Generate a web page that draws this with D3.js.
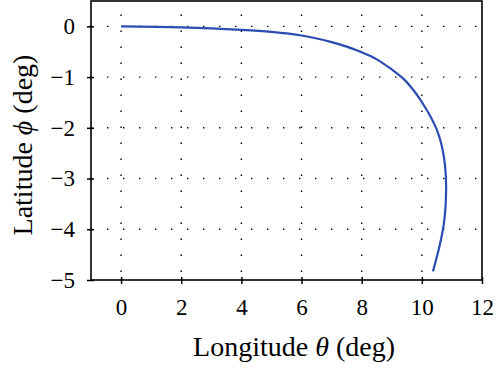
<!DOCTYPE html>
<html>
<head>
<meta charset="utf-8">
<script src="https://cdn.jsdelivr.net/npm/d3@7"></script>
<style>
  body { margin: 0; background: #fff; }
  svg text { font-family: "Liberation Serif", "DejaVu Serif", serif; fill: #000; }
</style>
</head>
<body>
<div id="chart"></div>
<script>
// values
const longitude = [0, 2, 4, 5, 6, 7, 7.5, 8, 8.5, 9, 9.4, 9.75, 10.05, 10.3, 10.5, 10.64, 10.74, 10.8, 10.8, 10.73, 10.6, 10.37]
const latitude = [0, -0.02, -0.07, -0.11, -0.18, -0.31, -0.40, -0.51, -0.65, -0.85, -1.04, -1.28, -1.54, -1.79, -2.04, -2.3, -2.6, -2.97, -3.4, -3.9, -4.3, -4.83]
const xTicks = [0, 2, 4, 6, 8, 10, 12]
const yTicks = [0, -1, -2, -3, -4, -5]

const width = 500
const height = 368
const margin = { top: 1, right: 18, bottom: 88, left: 91 }
const serif = '"Liberation Serif", "DejaVu Serif", serif'

const svg = d3.select('#chart')
    .append('svg')
    .attr('width', width)
    .attr('height', height)

const x = d3.scaleLinear()
    .domain([-1, 12])
    .range([margin.left, width - margin.right])

const y = d3.scaleLinear()
    .domain([-5, 0.5])
    .range([height - margin.bottom, margin.top])

// dotted grid
svg.append('g')
    .selectAll('line')
    .data(xTicks.filter(d => d < 12))
    .enter()
    .append('line')
    .attr('x1', d => x(d))
    .attr('x2', d => x(d))
    .attr('y1', y(-5))
    .attr('y2', y(0.5))
    .attr('stroke', '#000')
    .attr('stroke-width', 1.4)
    .attr('stroke-dasharray', '1.4,14.6')
    .attr('stroke-dashoffset', -8)

svg.append('g')
    .selectAll('line')
    .data(yTicks.filter(d => d > -5))
    .enter()
    .append('line')
    .attr('x1', x(-1))
    .attr('x2', x(12))
    .attr('y1', d => y(d))
    .attr('y2', d => y(d))
    .attr('stroke', '#000')
    .attr('stroke-width', 1.4)
    .attr('stroke-dasharray', '1.4,14.6')
    .attr('stroke-dashoffset', -16)

// curve
const line = d3.line()
    .x((d, i) => x(longitude[i]))
    .y(d => y(d))
    .curve(d3.curveCatmullRom)

svg.append('path')
    .datum(latitude)
    .attr('d', line)
    .attr('fill', 'none')
    .attr('stroke', '#2c4cb2')
    .attr('stroke-width', 2.2)

// axes
const xAxis = d3.axisBottom(x)
    .tickValues(xTicks)
    .tickSize(4)
    .tickPadding(15)
    .tickFormat(d3.format('d'))

const yAxis = d3.axisLeft(y)
    .tickValues(yTicks)
    .tickSize(4)
    .tickPadding(12)
    .tickFormat(d => d < 0 ? '\u2212' + Math.abs(d) : d)

const gx = svg.append('g')
    .attr('transform', `translate(0, ${y(-5)})`)
    .call(xAxis)
    .attr('font-family', serif)
    .attr('font-size', 23)
gx.select('.domain').remove()
gx.selectAll('line').attr('stroke-width', 1.5).attr('y1', -3).attr('y2', 4)

const gy = svg.append('g')
    .attr('transform', `translate(${x(-1)}, 0)`)
    .call(yAxis)
    .attr('font-family', serif)
    .attr('font-size', 23)
gy.select('.domain').remove()
gy.selectAll('line').attr('stroke-width', 1.5).attr('x1', -4).attr('x2', 3)

// frame
svg.append('rect')
    .attr('x', x(-1))
    .attr('y', y(0.5))
    .attr('width', x(12) - x(-1))
    .attr('height', y(-5) - y(0.5))
    .attr('fill', 'none')
    .attr('stroke', '#000')
    .attr('stroke-width', 1.6)

// axis titles
const xt = svg.append('text')
    .attr('x', 294)
    .attr('y', 356)
    .attr('text-anchor', 'middle')
    .style('font-size', '28px')
xt.append('tspan').text('Longitude ')
xt.append('tspan').style('font-style', 'italic').text('\u03B8')
xt.append('tspan').text(' (deg)')

const yt = svg.append('text')
    .attr('transform', `translate(32, 145) rotate(-90)`)
    .attr('text-anchor', 'middle')
    .style('font-size', '28px')
yt.append('tspan').text('Latitude ')
yt.append('tspan').style('font-style', 'italic').text('\u03D5')
yt.append('tspan').text(' (deg)')
</script>
</body>
</html>
